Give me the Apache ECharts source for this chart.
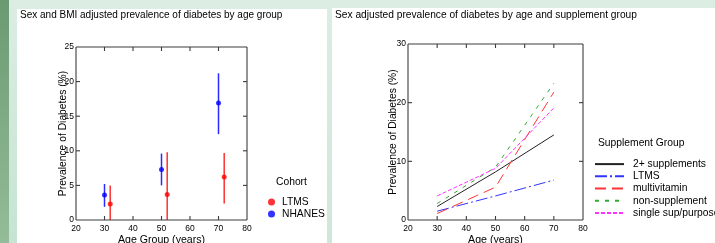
<!DOCTYPE html>
<html>
<head>
<meta charset="utf-8">
<script src="https://cdn.jsdelivr.net/npm/echarts@6/dist/echarts.min.js"></script>
<style>
html,body{margin:0;padding:0;}
body{width:715px;height:243px;position:relative;overflow:hidden;background:linear-gradient(to bottom,#dcede3,#cfe7d9);}
.bg{position:absolute;}
#chart{position:absolute;left:0;top:0;width:715px;height:243px;}
</style>
</head>
<body>
<div class="bg" style="left:0;top:0;width:9px;height:243px;background:linear-gradient(to bottom,#6a9a72,#94bc99);"></div>
<div class="bg" style="left:9px;top:0;width:8px;height:243px;background:linear-gradient(to bottom,#dcede3,#c5e4d3);"></div>
<div class="bg" style="left:17px;top:9px;width:310px;height:234px;background:#fff;"></div>
<div class="bg" style="left:332px;top:8px;width:383px;height:235px;background:#fff;"></div>
<div id="chart"></div>
<script>
// ---- Axis ticks ----
const ageTicks = [20, 30, 40, 50, 60, 70, 80];
const leftPrevTicks = [0, 5, 10, 15, 20, 25];
const rightPrevTicks = [0, 10, 20, 30];

// ---- Left chart data ----
const nhanesAge = [30, 50, 70];
const nhanesPrev = [3.6, 7.3, 16.9];
const nhanesLow = [1.9, 5.0, 12.4];
const nhanesHigh = [5.2, 9.6, 21.2];
const ltmsAge = [32, 52, 72];
const ltmsPrev = [2.3, 3.7, 6.2];
const ltmsLow = [0, 0, 2.4];
const ltmsHigh = [5.0, 9.8, 9.7];

// ---- Right chart data ----
const suppAge = [30, 50, 70];
const twoPlus = [2.3, 8.2, 14.5];
const ltmsSupp = [1.5, 4.1, 6.8];
const multivitamin = [1.1, 5.6, 21.8];
const nonSupplement = [2.8, 9.0, 23.3];
const singleSup = [4.1, 8.8, 19.1];

const FONT = '"Liberation Sans", Arial, sans-serif';
const FRAME = '#3c3c3c';
const FS = 10.3;

function pairs(xs, ys) { return xs.map((x, i) => [x, ys[i]]); }
function errData(xs, lo, hi) { return xs.map((x, i) => [x, lo[i], hi[i]]); }

function baseX(idx, ticks, name) {
  return {
    gridIndex: idx, type: 'value', min: ticks[0], max: ticks[ticks.length - 1],
    interval: ticks[1] - ticks[0], position: 'bottom',
    axisLine: {show: false, onZero: false},
    axisTick: {show: false},
    axisLabel: {show: true, fontSize: 8.5, color: '#000', margin: 4, fontFamily: FONT},
    splitLine: {show: false},
    name: name, nameLocation: 'middle', nameGap: 15, nameMoveOverlap: false,
    nameTextStyle: {fontSize: 10.6, color: '#000', fontFamily: FONT, verticalAlign: 'top'}
  };
}
function baseY(idx, ticks, name, gap) {
  return {
    gridIndex: idx, type: 'value', min: ticks[0], max: ticks[ticks.length - 1],
    interval: ticks[1] - ticks[0], position: 'left',
    axisLine: {show: false, onZero: false},
    axisTick: {show: false},
    axisLabel: {show: true, fontSize: 8.5, color: '#000', margin: 2, fontFamily: FONT},
    splitLine: {show: false},
    name: name, nameLocation: 'middle', nameGap: gap, nameMoveOverlap: false,
    nameTextStyle: {fontSize: FS, color: '#000', fontFamily: FONT}
  };
}

function errSeries(name, xs, lo, hi, color) {
  return {
    name: name + ' CI', type: 'custom', xAxisIndex: 0, yAxisIndex: 0,
    data: errData(xs, lo, hi), silent: true, z: 1,
    renderItem: function (params, api) {
      const a = api.coord([api.value(0), api.value(1)]);
      const b = api.coord([api.value(0), api.value(2)]);
      return {type: 'line', shape: {x1: a[0], y1: a[1], x2: b[0], y2: b[1]},
        style: {stroke: color, lineWidth: 1.5}};
    }
  };
}

function lineSeries(name, ys, color, dash) {
  return {
    name: name, type: 'line', xAxisIndex: 1, yAxisIndex: 1,
    data: pairs(suppAge, ys), symbol: 'none', showSymbol: false,
    lineStyle: {color: color, width: 1, type: dash},
    itemStyle: {color: color}
  };
}

// plot frame with inward ticks on all four sides, placed through the axis scales
function frameSeries(ai, xTicks, yTicks) {
  const xmin = xTicks[0], xmax = xTicks[xTicks.length - 1];
  const ymin = yTicks[0], ymax = yTicks[yTicks.length - 1];
  return {
    name: 'frame' + ai, type: 'custom', xAxisIndex: ai, yAxisIndex: ai,
    data: [[xmin, ymin, xmax, ymax]], silent: true, z: 6,
    renderItem: function (params, api) {
      const p0 = api.coord([xmin, ymin]);
      const p1 = api.coord([xmax, ymax]);
      const x0 = p0[0], y1 = p0[1], x1 = p1[0], y0 = p1[1];
      const st = {stroke: FRAME, lineWidth: 1.1};
      const seg = (a, b, c, d) => ({type: 'line', shape: {x1: a, y1: b, x2: c, y2: d}, style: st});
      const ch = [seg(x0, y0, x1, y0), seg(x1, y0, x1, y1), seg(x1, y1, x0, y1), seg(x0, y1, x0, y0)];
      const L = 4;
      xTicks.slice(1, -1).forEach(function (t) {
        const px = api.coord([t, ymin])[0];
        ch.push(seg(px, y1, px, y1 - L));
        ch.push(seg(px, y0, px, y0 + L));
      });
      yTicks.slice(1, -1).forEach(function (t) {
        const py = api.coord([xmin, t])[1];
        ch.push(seg(x0, py, x0 + L, py));
        ch.push(seg(x1, py, x1 - L, py));
      });
      return {type: 'group', children: ch};
    }
  };
}

const chart = echarts.init(document.getElementById('chart'), null, {renderer: 'canvas'});
chart.setOption({
  animation: false,
  backgroundColor: 'transparent',
  textStyle: {fontFamily: FONT},
  title: [
    {text: 'Sex and BMI adjusted prevalence of diabetes by age group', left: 20, top: 10, padding: 0,
     textStyle: {fontSize: 10, fontWeight: 'normal', color: '#000', fontFamily: FONT}},
    {text: 'Sex adjusted prevalence of diabetes by age and supplement group', left: 335, top: 10, padding: 0,
     textStyle: {fontSize: 10.2, fontWeight: 'normal', color: '#000', fontFamily: FONT}}
  ],
  grid: [
    {left: 76, top: 47, width: 171, height: 173, outerBoundsMode: 'none', containLabel: false},
    {left: 408, top: 44, width: 175, height: 176, outerBoundsMode: 'none', containLabel: false}
  ],
  xAxis: [
    baseX(0, ageTicks, 'Age Group (years)'),
    baseX(1, ageTicks, 'Age (years)')
  ],
  yAxis: [
    baseY(0, leftPrevTicks, 'Prevalence of Diabetes (%)', 8),
    baseY(1, rightPrevTicks, 'Prevalence of Diabetes (%)', 10)
  ],
  legend: [
    {data: ['LTMS', 'NHANES'], orient: 'vertical', left: 268, top: 196, icon: 'circle', padding: 0,
     itemWidth: 7, itemHeight: 7, itemGap: 0,
     textStyle: {fontSize: FS, lineHeight: 12, color: '#000', fontFamily: FONT, padding: [0, 0, 0, 2]}},
    {data: ['2+ supplements', 'LTMS ', 'multivitamin', 'non-supplement', 'single sup/purpose'],
     orient: 'vertical', left: 594, top: 158, itemWidth: 29, itemHeight: 8, itemGap: 0, padding: 0,
     itemStyle: {opacity: 0, color: 'transparent', borderWidth: 0},
     textStyle: {fontSize: FS, lineHeight: 12.2, color: '#000', fontFamily: FONT, padding: [0, 0, 0, 4]}}
  ],
  graphic: [
    {type: 'text', left: 276, top: 177, style: {text: 'Cohort', fontSize: FS, fill: '#000', fontFamily: FONT}},
    {type: 'text', left: 598, top: 138, style: {text: 'Supplement Group', fontSize: FS, fill: '#000', fontFamily: FONT}}
  ],
  series: [
    errSeries('NHANES', nhanesAge, nhanesLow, nhanesHigh, '#2a2aff'),
    errSeries('LTMS', ltmsAge, ltmsLow, ltmsHigh, '#ff3030'),
    {name: 'LTMS', type: 'scatter', xAxisIndex: 0, yAxisIndex: 0, data: pairs(ltmsAge, ltmsPrev),
     symbol: 'circle', symbolSize: 5, itemStyle: {color: '#ff0000'}, z: 3},
    {name: 'NHANES', type: 'scatter', xAxisIndex: 0, yAxisIndex: 0, data: pairs(nhanesAge, nhanesPrev),
     symbol: 'circle', symbolSize: 5, itemStyle: {color: '#0000ff'}, z: 3},
    lineSeries('2+ supplements', twoPlus, '#222222', 'solid'),
    lineSeries('LTMS ', ltmsSupp, '#3333ff', [12, 3, 2, 3]),
    lineSeries('multivitamin', multivitamin, '#ff3333', [11, 6]),
    lineSeries('non-supplement', nonSupplement, '#33aa33', [4, 6]),
    lineSeries('single sup/purpose', singleSup, '#ff33ff', [4, 2]),
    frameSeries(0, ageTicks, leftPrevTicks),
    frameSeries(1, ageTicks, rightPrevTicks)
  ]
});
</script>
</body>
</html>
